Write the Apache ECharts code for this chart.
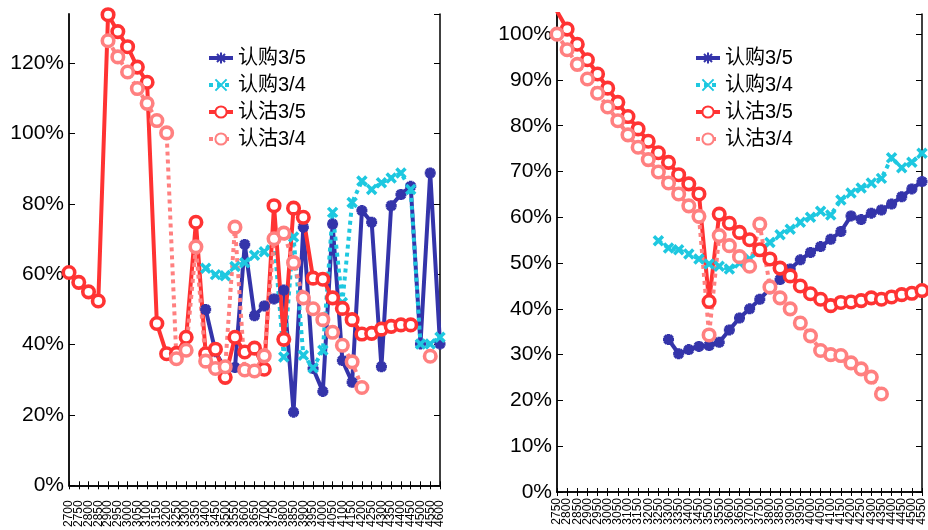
<!DOCTYPE html>
<html><head><meta charset="utf-8">
<script src="https://cdn.jsdelivr.net/npm/echarts@6/dist/echarts.min.js"></script>
<style>html,body{margin:0;padding:0;background:#fff}#c{width:928px;height:530px}</style>
</head><body><div id="c"></div>
<script>
// ---------- data (percent) ----------
const catsL = ['2700','2750','2800','2850','2900','2950','3000','3050','3100','3150','3200','3250','3300','3350','3400','3450','3500','3550','3600','3650','3700','3750','3800','3850','3900','3950','4000','4050','4100','4150','4200','4250','4300','4350','4400','4450','4500','4550','4600'];
const catsR = ['2750','2800','2850','2900','2950','3000','3050','3100','3150','3200','3250','3300','3350','3400','3450','3500','3550','3600','3650','3700','3750','3800','3850','3900','3950','4000','4050','4100','4150','4200','4250','4300','4350','4400','4450','4500','4550'];
const seriesNames = ['认购3/5','认购3/4','认沽3/5','认沽3/4'];

const callMarL = [null,null,null,null,null,null,null,null,null,null,null,null,null,null,50,38,33,33.5,68.5,48.2,51,53,55.5,20.8,73.4,33.2,26.7,74.3,35.5,29.3,78.1,74.8,33.7,79.5,82.7,85,40.2,88.8,40.2];
const callAprL = [null,null,null,null,null,null,null,null,null,null,null,null,null,null,61.7,59.9,59.6,62.2,63.3,65.4,66.4,70,36.5,70.6,37,33.4,38.4,77.6,52,80.4,86.5,84.1,86,87.4,88.8,84.1,40.2,40.2,42.1];
const putMarL = [60.5,57.7,55,52.4,133.8,129,124.7,118.9,114.6,46,37.4,37.5,42.1,74.8,37.4,38.7,30.7,42.1,37.9,39,33,79.5,41.5,78.8,76.2,58.9,58.6,53.3,50.3,47.1,43,43.2,44.4,45.2,45.6,45.6,null,null,null];
const putAprL = [null,null,null,null,126.4,121.8,117.5,112.8,108.6,103.7,100.2,36,38.4,67.8,35.3,33.2,33.7,73.4,32.8,32.5,36.8,70.1,71.7,63.3,53.3,50.2,47.1,43.5,39.8,35.1,27.8,null,null,null,null,null,null,36.7,null];

const callMarR = [null,null,null,null,null,null,null,null,null,null,null,33.3,30.2,31.1,31.8,32,32.7,35.4,38,40,42.1,44.4,46.4,48.7,50.7,52.3,53.6,55.2,56.9,60.3,59.5,60.9,61.6,62.9,64.5,66.2,67.8];
const callAprR = [null,null,null,null,null,null,null,null,null,null,54.9,53.3,52.9,52,50.9,49.8,49.3,48.7,50,50.9,52.9,54.5,56.2,57.4,58.9,60,61.3,60.5,63.8,65.3,66.4,67.5,68.5,73,70.8,72,74];
const putMarR = [105,101.1,97.8,94.4,91.3,88.2,85.1,82,79.3,76.6,74.1,72,69.3,67.3,65.1,41.6,60.7,58.7,56.7,55.1,52.9,50.9,48.9,47.2,45,43.3,42.1,40.7,41.4,41.5,41.8,42.4,42.1,42.6,43.1,43.4,44];
const putAprR = [100,96.6,93.4,90.2,87.1,84.1,81.1,78,75.3,72.6,69.9,67.5,65.1,62.5,60.2,34.3,56,53.8,51.4,49.3,58.5,44.8,42.4,40,36.9,34.1,30.9,30,29.8,28.2,26.9,25.1,21.4,null,null,null,null];

const yTicksL = {min: 0, max: 134, interval: 20};
const yTicksR = {min: 0, max: 104.4, interval: 10};

// ---------- styles ----------
const FONT = '"Liberation Sans", Arial, "Noto Sans CJK SC", sans-serif';
const C_BLUE = '#3434aa', C_CYAN = '#1ec8e0', C_RED = '#ff3333', C_PINK = '#ff8080';
const STAR = 'path://M0,-5L0,5M-5,0L5,0M-3.6,-3.6L3.6,3.6M-3.6,3.6L3.6,-3.6';
const XMARK = 'path://M-5,-5L5,5M-5,5L5,-5';

function mk(name, data, xi, yi, kind) {
  const s = {name, type: 'line', data, xAxisIndex: xi, yAxisIndex: yi,
    connectNulls: false, clip: true, animation: false, silent: true};
  if (kind === 'callMar') {
    Object.assign(s, {symbol: STAR, symbolSize: 11, color: C_BLUE,
      itemStyle: {color: C_BLUE, borderColor: C_BLUE, borderWidth: 3.5},
      lineStyle: {color: C_BLUE, width: 4}});
  } else if (kind === 'callApr') {
    Object.assign(s, {symbol: XMARK, symbolSize: 9, color: C_CYAN,
      itemStyle: {color: C_CYAN, borderColor: C_CYAN, borderWidth: 3.5},
      lineStyle: {color: C_CYAN, width: 4, type: [4, 4], cap: 'butt'}});
  } else if (kind === 'putMar') {
    Object.assign(s, {symbol: 'circle', symbolSize: 11.5, color: C_RED,
      itemStyle: {color: '#fff', borderColor: C_RED, borderWidth: 3.6},
      lineStyle: {color: C_RED, width: 4}});
  } else {
    Object.assign(s, {symbol: 'circle', symbolSize: 11.5, color: C_PINK,
      itemStyle: {color: '#fff', borderColor: C_PINK, borderWidth: 3.6},
      lineStyle: {color: C_PINK, width: 4, type: [4, 4], cap: 'butt'}});
  }
  return s;
}

function xAxes(cats, gi, margin) {
  return [
    {type: 'category', gridIndex: gi, data: cats, boundaryGap: false, position: 'bottom',
     axisLine: {lineStyle: {color: '#000', width: 1.5}},
     axisTick: {inside: true, length: 4, interval: 0, lineStyle: {color: '#000', width: 1}},
     axisLabel: {interval: 0, rotate: 90, fontSize: 12, margin: margin, color: '#000', fontFamily: FONT},
     splitLine: {show: false}},
    {type: 'category', gridIndex: gi, data: cats, boundaryGap: false, position: 'top',
     axisLine: {lineStyle: {color: '#000', width: 1.5}},
     axisTick: {inside: true, length: 4, interval: 0, lineStyle: {color: '#000', width: 1}},
     axisLabel: {show: false}, splitLine: {show: false}}
  ];
}
function yAxes(t, gi) {
  return [
    Object.assign({type: 'value', gridIndex: gi, position: 'left',
     axisLine: {show: true, lineStyle: {color: '#000', width: 1.8}},
     axisTick: {show: true, inside: true, length: 6, lineStyle: {color: '#000', width: 1}},
     axisLabel: {formatter: v => v + '%', fontSize: 21, color: '#000', margin: 5, fontFamily: FONT, showMaxLabel: false},
     splitLine: {show: false}}, t),
    Object.assign({type: 'value', gridIndex: gi, position: 'right',
     axisLine: {show: true, lineStyle: {color: '#000', width: 1.5}},
     axisTick: {show: true, inside: true, length: 6, lineStyle: {color: '#000', width: 1}},
     axisLabel: {show: false}, splitLine: {show: false}}, t)
  ];
}

const legendCommon = {orient: 'vertical', itemWidth: 24, itemHeight: 14, itemGap: 7,
  lineStyle: {width: 4},
  textStyle: {fontSize: 20, lineHeight: 20, color: '#000', fontFamily: FONT},
  data: seriesNames, selectedMode: false};

const option = {
  backgroundColor: '#fff',
  animation: false,
  grid: [
    {left: 69, top: 14, width: 371, height: 478},
    {left: 557, top: 14, width: 369, height: 478}
  ],
  xAxis: [...xAxes(catsL, 0, 15), ...xAxes(catsR, 1, 6)],
  yAxis: [...yAxes(yTicksL, 0), ...yAxes(yTicksR, 1)],
  legend: [
    Object.assign({left: 202, top: 43}, legendCommon),
    Object.assign({left: 689, top: 43}, legendCommon)
  ],
  series: [
    mk(seriesNames[0], callMarL, 0, 0, 'callMar'),
    mk(seriesNames[1], callAprL, 0, 0, 'callApr'),
    mk(seriesNames[2], putMarL, 0, 0, 'putMar'),
    mk(seriesNames[3], putAprL, 0, 0, 'putApr'),
    mk(seriesNames[0], callMarR, 2, 2, 'callMar'),
    mk(seriesNames[1], callAprR, 2, 2, 'callApr'),
    mk(seriesNames[2], putMarR, 2, 2, 'putMar'),
    mk(seriesNames[3], putAprR, 2, 2, 'putApr')
  ]
};
const chart = echarts.init(document.getElementById('c'), null, {renderer: 'canvas'});
chart.setOption(option);
</script></body></html>
